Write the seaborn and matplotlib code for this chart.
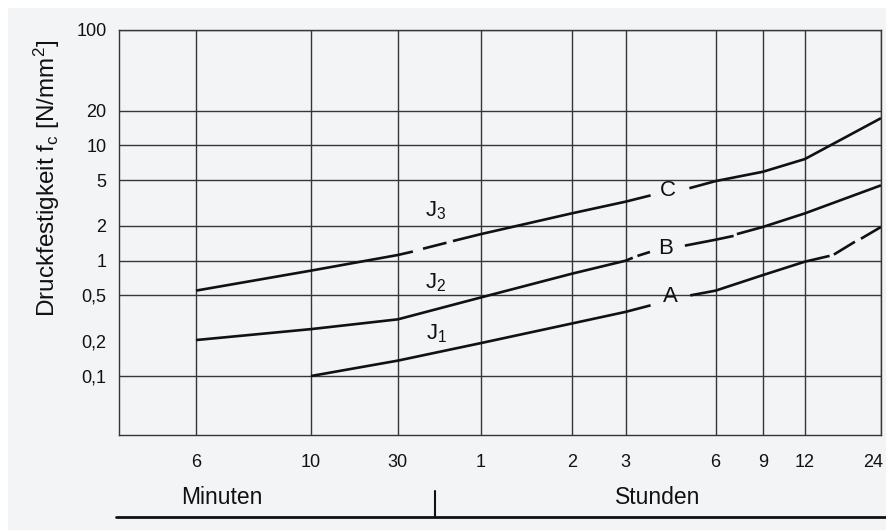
import numpy as np
import pandas as pd
import matplotlib
matplotlib.use("Agg")
import matplotlib.pyplot as plt
from matplotlib.lines import Line2D
from matplotlib.patches import Rectangle
from matplotlib.transforms import ScaledTranslation
import seaborn as sns

# ---- time axis (minutes) ----
tick_minutes = [6, 10, 30, 60, 120, 180, 360, 540, 720, 1440]
tick_labels = ["6", "10", "30", "1", "2", "3", "6", "9", "12", "24"]
# position of each tick along the axis width; first entry is the left edge
axis_minutes = [3] + tick_minutes
axis_fraction = [0.0, 0.101, 0.252, 0.366, 0.475, 0.594, 0.665, 0.783, 0.845, 0.900, 1.0]

# ---- strength axis ----
y_grid = [0.1, 0.5, 1, 2, 5, 10, 20, 100]
y_grid_labels = ["0,1", "0,5", "1", "2", "5", "10", "20", "100"]
y_extra = [0.2]
y_extra_labels = ["0,2"]

# ---- curves: breakpoints in minutes, strength in N/mm², drawn flag per segment ----
c_minutes = [6, 10, 30, 34, 37, 45, 47.5, 60, 120, 180, 218, 294, 360, 540, 720, 1440]
c_values = [0.55, 0.82, 1.12, 1.2, 1.27, 1.43, 1.48, 1.70, 2.57, 3.25, 3.68, 4.25, 4.9, 5.9, 7.6, 17.2]
c_drawn = [1, 1, 1, 0, 1, 0, 1, 1, 1, 1, 0, 1, 1, 1, 1]

b_minutes = [6, 10, 30, 60, 120, 180, 190, 197, 217, 284, 360, 420, 432, 540, 720, 1440]
b_values = [0.205, 0.255, 0.31, 0.48, 0.77, 1.0, 1.06, 1.1, 1.19, 1.35, 1.52, 1.64, 1.7, 1.96, 2.57, 4.5]
b_drawn = [1, 1, 1, 1, 1, 1, 0, 1, 0, 1, 1, 0, 1, 1, 1]

a_minutes = [10, 30, 60, 120, 180, 218, 296, 360, 540, 720, 902, 938, 1136, 1200, 1440]
a_values = [0.1, 0.136, 0.193, 0.285, 0.36, 0.41, 0.5, 0.55, 0.75, 0.98, 1.1, 1.13, 1.46, 1.55, 1.96]
a_drawn = [1, 1, 1, 1, 1, 0, 1, 1, 1, 1, 0, 1, 0, 1]

curves = {"C": (c_minutes, c_values, c_drawn),
          "B": (b_minutes, b_values, b_drawn),
          "A": (a_minutes, a_values, a_drawn)}

# split each curve into continuous drawn pieces
rows = []
for name, (mins, vals, drawn) in curves.items():
    piece = 0
    i = 0
    n = len(drawn)
    while i < n:
        if drawn[i]:
            j = i
            while j < n and drawn[j]:
                j += 1
            for k in range(i, j + 1):
                rows.append({"minutes": mins[k], "value": vals[k],
                             "piece": f"{name}{piece}"})
            piece += 1
            i = j
        else:
            i += 1
df = pd.DataFrame(rows)

# ---- styling ----
sns.set_theme(style="white")
BG = "#f3f4f6"
INK = "#111111"
GRID = "#363636"
plt.rcParams["font.family"] = ["Liberation Sans", "DejaVu Sans"]
plt.rcParams["mathtext.fontset"] = "custom"
plt.rcParams["mathtext.rm"] = "Liberation Sans"
plt.rcParams["mathtext.it"] = "Liberation Sans:italic"
plt.rcParams["text.color"] = INK

W, H = 886, 530
fig = plt.figure(figsize=(W / 100, H / 100), dpi=100, facecolor="white")
fig.patches.append(Rectangle((8 / W, 0), 1 - 8 / W, 1 - 8 / H,
                             transform=fig.transFigure, facecolor=BG,
                             edgecolor="none", zorder=-10))

ax = fig.add_axes([119 / W, 1 - 435 / H, (881 - 119) / W, (435 - 30) / H])
ax.set_facecolor(BG)

log_anchor = np.log(axis_minutes)


def fwd(t):
    t = np.asarray(t, dtype=float)
    return np.interp(np.log(np.clip(t, 1e-6, None)), log_anchor, axis_fraction)


def inv(p):
    p = np.asarray(p, dtype=float)
    return np.exp(np.interp(p, axis_fraction, log_anchor))


ax.set_xscale("function", functions=(fwd, inv))
ax.set_yscale("log")

sns.lineplot(data=df, x="minutes", y="value", units="piece", estimator=None,
             sort=False, color=INK, linewidth=1.9, solid_capstyle="butt",
             legend=False, ax=ax)

ax.set_xlim(axis_minutes[0], axis_minutes[-1])
ax.set_ylim(0.0308, 100)

ax.set_xticks(tick_minutes)
ax.set_xticklabels(tick_labels)
ax.xaxis.set_minor_locator(matplotlib.ticker.NullLocator())
ax.set_yticks(y_grid)
ax.set_yticklabels(y_grid_labels)
ax.set_yticks(y_extra, minor=True)
ax.set_yticklabels(y_extra_labels, minor=True)
ax.tick_params(axis="both", which="both", length=0, labelsize=13, colors=INK)
ax.tick_params(axis="x", pad=14)
ax.tick_params(axis="y", which="both", pad=9)
# keep the last hour label inside the figure edge
last = ax.get_xticklabels()[-1]
last.set_horizontalalignment("right")
last.set_transform(last.get_transform() + ScaledTranslation(2 / 100, 0, fig.dpi_scale_trans))

ax.grid(True, which="major", color=GRID, linewidth=1.0)
ax.grid(False, which="minor")
ax.set_axisbelow(True)
for s in ax.spines.values():
    s.set_visible(True)
    s.set_color(GRID)
    s.set_linewidth(1.0)
ax.set_xlabel("")
ax.set_ylabel("")


# curve labels (axes fractions)
def afrac(px, py):
    return (px - 119) / (881 - 119), (435 - py) / (435 - 30)


labels = [("J$_{\\mathrm{3}}$", 436, 211), ("J$_{\\mathrm{2}}$", 436, 283),
          ("J$_{\\mathrm{1}}$", 437, 334), ("C", 668, 190), ("B", 666, 249),
          ("A", 670, 296)]
for txt, px, py in labels:
    fx, fy = afrac(px, py)
    ax.text(fx, fy, txt, transform=ax.transAxes, ha="center", va="center",
            fontsize=16, color=INK)

# y-axis title
fig.text(47 / W, 1 - 178 / H, "Druckfestigkeit f$_{\\mathrm{c}}$ [N/mm$^{\\mathrm{2}}$]",
         rotation=90, ha="center", va="center", fontsize=17.5, color=INK)

# unit bar below the time axis
fig.add_artist(Line2D([116 / W, 1.0], [1 - 517 / H, 1 - 517 / H],
                      transform=fig.transFigure, color=INK, linewidth=2.0))
fig.add_artist(Line2D([435 / W, 435 / W], [1 - 517 / H, 1 - 491 / H],
                      transform=fig.transFigure, color=INK, linewidth=1.5))
fig.text(222 / W, 1 - 498 / H, "Minuten", ha="center", va="center",
         fontsize=16.5, color=INK)
fig.text(658 / W, 1 - 498 / H, "Stunden", ha="center", va="center",
         fontsize=16.5, color=INK)

fig.savefig("out.png", dpi=100, facecolor="white")
